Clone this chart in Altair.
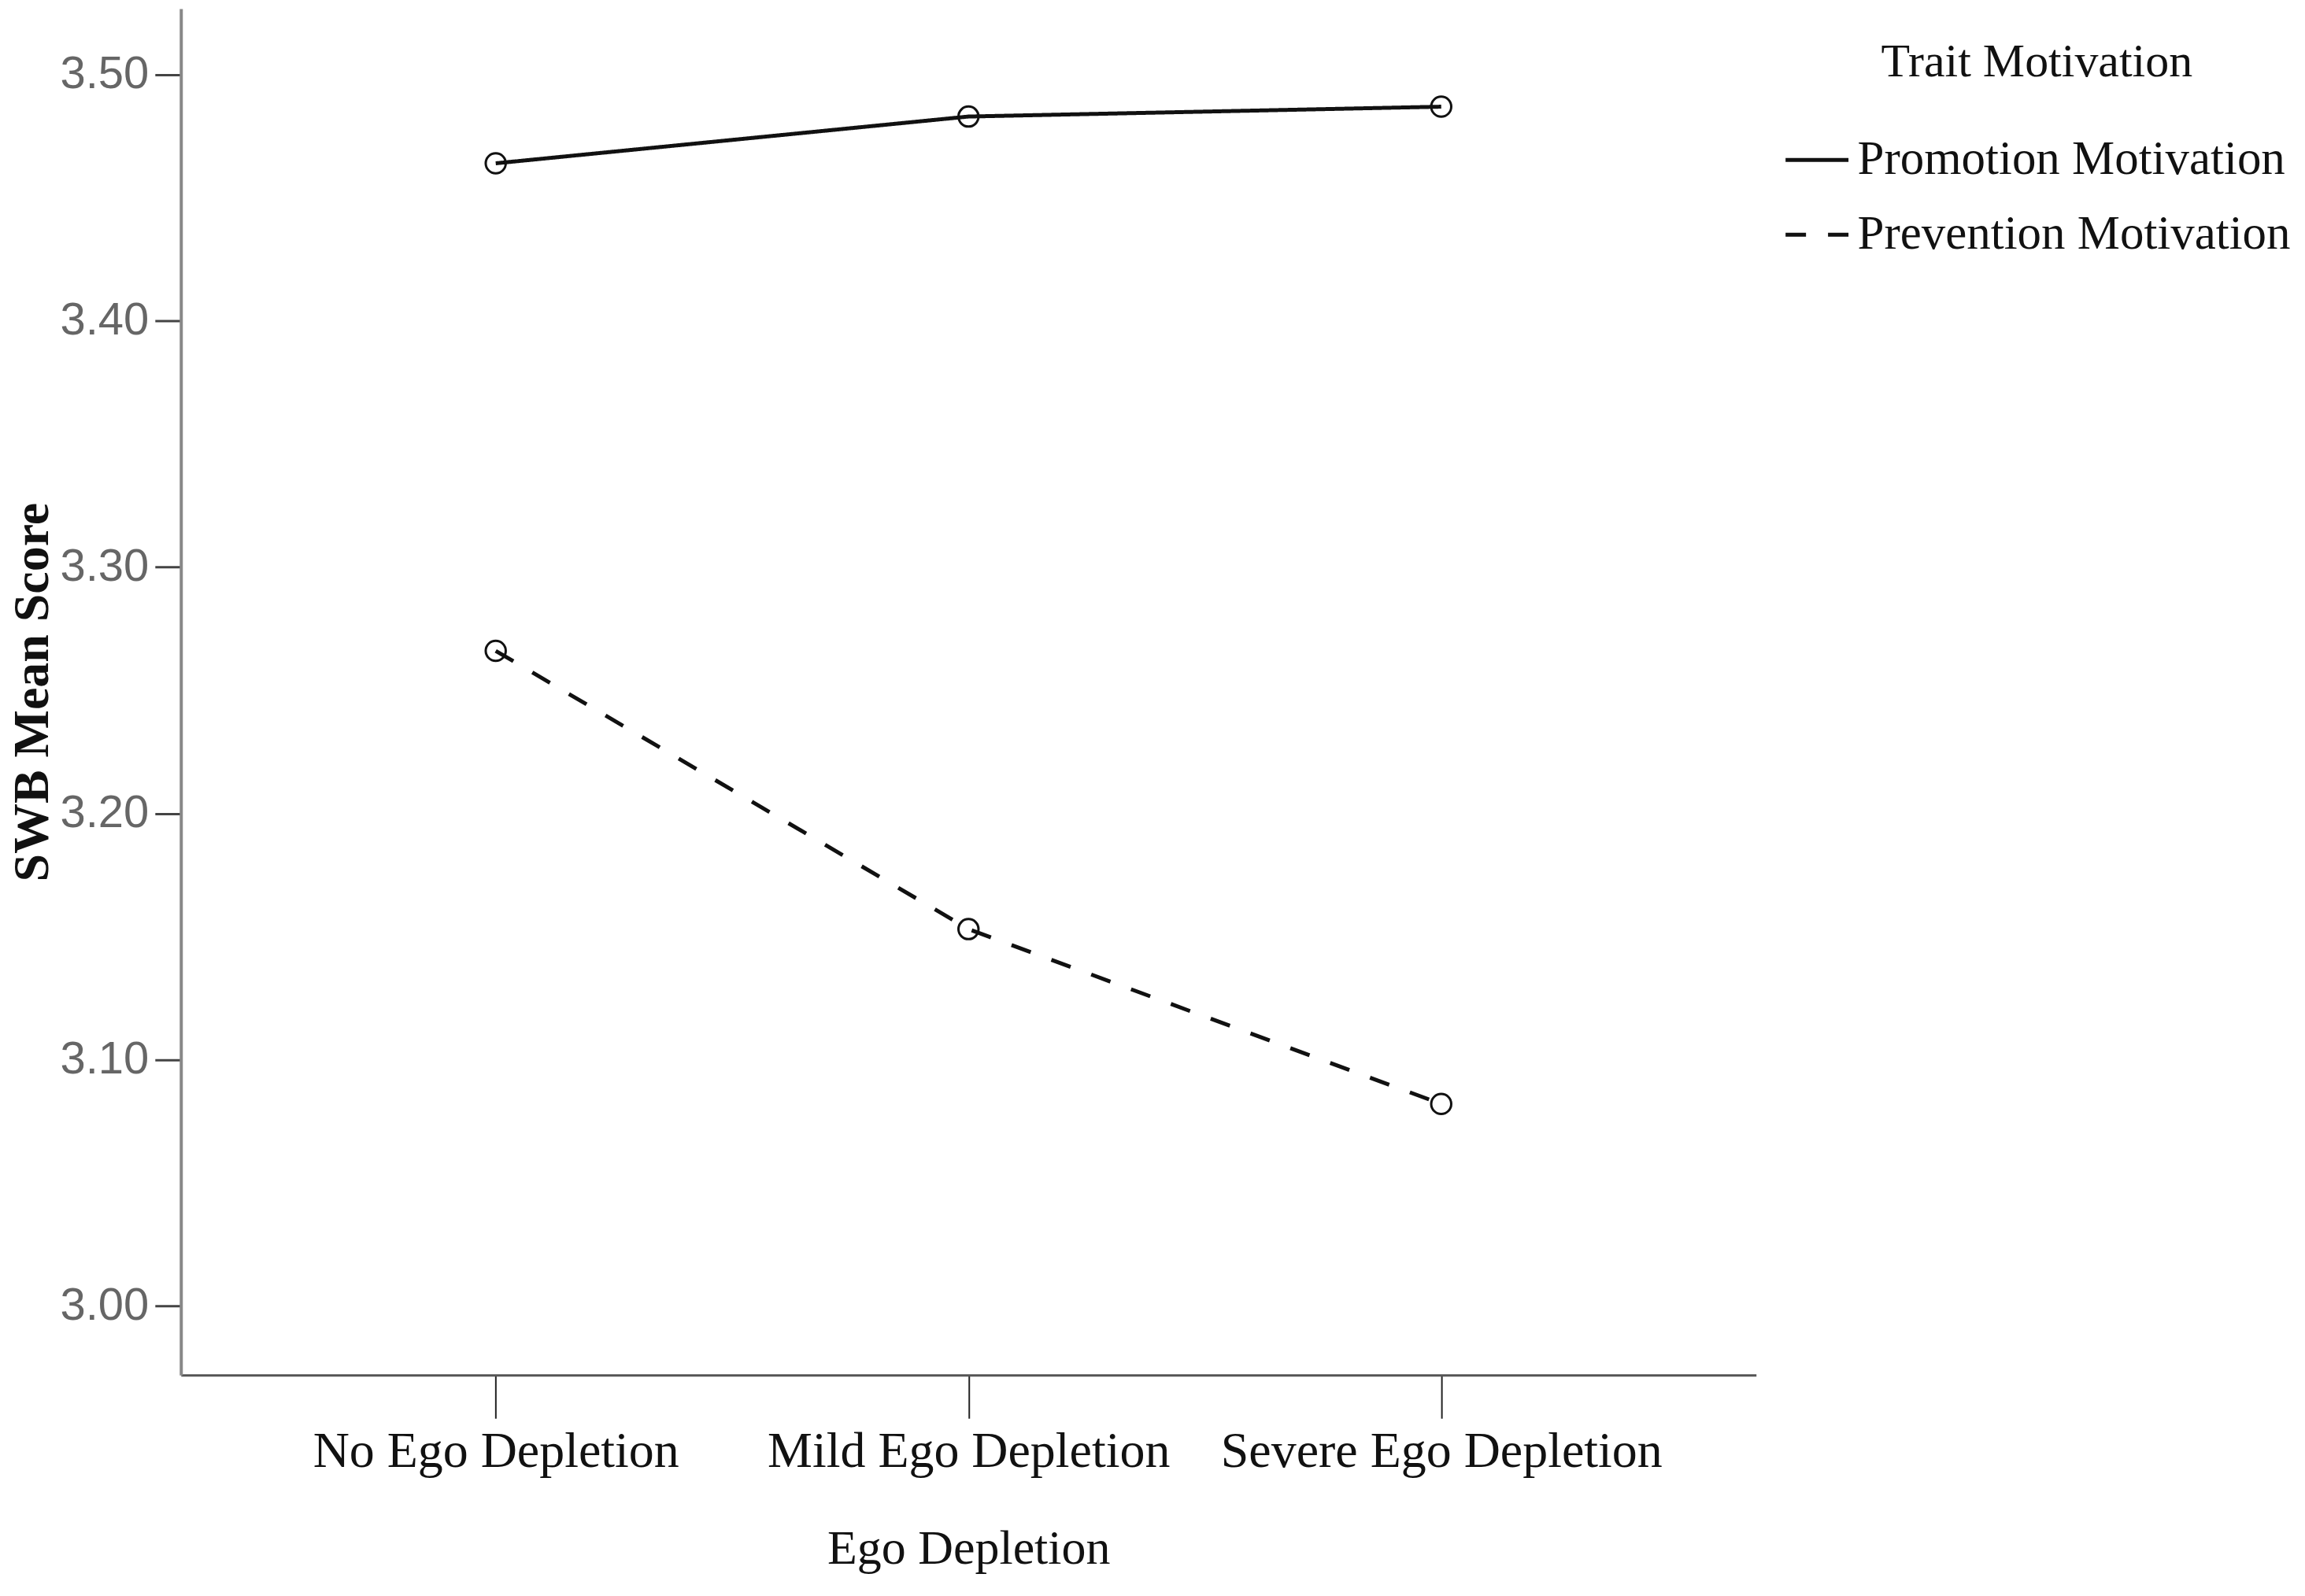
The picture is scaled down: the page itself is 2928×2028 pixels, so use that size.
import altair as alt
import pandas as pd

categories = ["No Ego Depletion", "Mild Ego Depletion", "Severe Ego Depletion"]
series_names = ["Promotion Motivation", "Prevention Motivation"]
promotion = [3.464, 3.483, 3.487]
prevention = [3.266, 3.153, 3.082]
y_ticks = [3.00, 3.10, 3.20, 3.30, 3.40, 3.50]

rows = []
for c, v in zip(categories, promotion):
    rows.append({"cat": c, "series": series_names[0], "val": v})
for c, v in zip(categories, prevention):
    rows.append({"cat": c, "series": series_names[1], "val": v})
df = pd.DataFrame(rows)

SERIF = "Liberation Serif"
SANS = "Liberation Sans"

x_enc = alt.X(
    "cat:N",
    sort=categories,
    scale=alt.Scale(type="point", padding=0.666),
    axis=alt.Axis(
        title="Ego Depletion",
        labelAngle=0,
        labelFont=SERIF,
        labelFontSize=64,
        labelColor="#111",
        labelPadding=10,
        labelLimit=2000,
        tickSize=55,
        tickWidth=2,
        tickColor="#222",
        domainColor="#555",
        domainWidth=3,
        titleFont=SERIF,
        titleFontSize=62,
        titleFontWeight="normal",
        titleColor="#111",
        titlePadding=62,
        grid=False,
    ),
)
y_enc = alt.Y(
    "val:Q",
    scale=alt.Scale(domain=[2.9719, 3.5268], nice=False, zero=False),
    axis=alt.Axis(
        title="SWB Mean Score",
        values=y_ticks,
        format=".2f",
        labelFont=SANS,
        labelFontSize=58,
        labelColor="#666",
        labelPadding=8,
        tickSize=33,
        tickWidth=3,
        tickColor="#444",
        domainColor="#888",
        domainWidth=4,
        titleFont=SERIF,
        titleFontSize=64,
        titleFontWeight="bold",
        titleColor="#111",
        titleX=-188,
        titleBaseline="middle",
        titleAngle=270,
        titleLimit=2000,
        grid=False,
    ),
)

lines = alt.Chart(df).mark_line(color="#111", strokeWidth=5).encode(
    x=x_enc,
    y=y_enc,
    strokeDash=alt.StrokeDash(
        "series:N",
        sort=series_names,
        scale=alt.Scale(domain=series_names, range=[[1, 0], [26, 28]]),
        legend=alt.Legend(
            title="Trait Motivation",
            orient="none",
            legendX=2038,
            legendY=39,
            padding=0,
            titleFont=SERIF,
            titleFontSize=60,
            titleFontWeight="normal",
            titleColor="#111",
            titleAnchor="middle",
            titlePadding=51,
            titleLimit=2000,
            labelFont=SERIF,
            labelFontSize=61,
            labelColor="#111",
            labelOffset=9,
            labelLimit=2000,
            symbolType="stroke",
            symbolSize=6400,
            symbolStrokeWidth=5,
            symbolStrokeColor="#111",
            rowPadding=22,
        ),
    ),
)

points = alt.Chart(df).mark_point(
    filled=False, color="#111", strokeWidth=3, size=650, shape="circle", opacity=1
).encode(x=x_enc, y=y_enc, detail="series:N")

chart = (
    alt.layer(lines, points)
    .properties(
        width=2003,
        height=1738,
        autosize=alt.AutoSizeParams(type="none"),
        padding={"left": 222, "top": 2, "right": 690, "bottom": 265},
        background="white",
    )
    .configure_view(stroke="transparent", strokeWidth=0)
)

chart.save("out.html", embed_options={"renderer": "svg", "actions": False})
